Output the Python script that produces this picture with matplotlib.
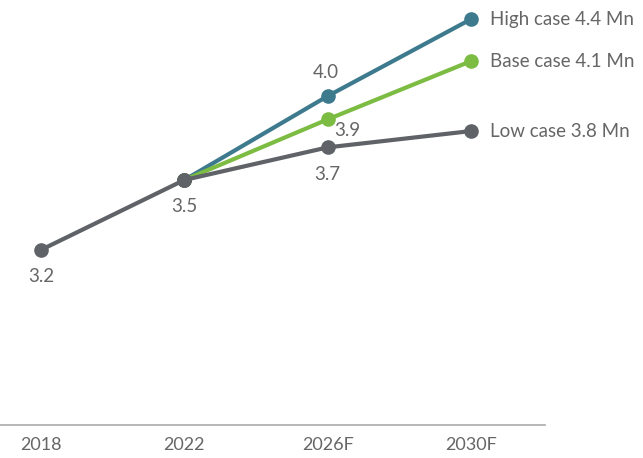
import numpy as np
import matplotlib.pyplot as plt

plt.rcParams['font.family'] = ['Lato', 'DejaVu Sans']

# data
years = ['2018', '2022', '2026F', '2030F']
history = [3.2, 3.5]
high_case = [3.5, 3.86, 4.19]
base_case = [3.5, 3.76, 4.01]
low_case = [3.5, 3.64, 3.71]
history_labels = ['3.2', '3.5']
high_labels = ['4.0']
base_labels = ['3.9']
low_labels = ['3.7']
series_names = ['High case 4.4 Mn', 'Base case 4.1 Mn', 'Low case 3.8 Mn']

teal = '#3d7a8e'
green = '#7cbc42'
grey = '#5f6267'
text_c = '#666666'

fig = plt.figure(figsize=(6.43, 4.58), dpi=100)
ax = fig.add_axes([0, 1 - 425 / 458, 545 / 643, 425 / 458])

x = np.arange(len(years))
xf = x[1:]

ax.plot(xf, high_case, c=teal, lw=3, marker='o', ms=9.5, solid_capstyle='round', zorder=3)
ax.plot(xf, base_case, c=green, lw=3, marker='o', ms=9.5, solid_capstyle='round', zorder=3)
ax.plot(xf, low_case, c=grey, lw=3, marker='o', ms=9.5, solid_capstyle='round', zorder=4)
ax.plot(x[:2], history, c=grey, lw=3, marker='o', ms=9.5, solid_capstyle='round', zorder=4)

fs = 13.5
for xi, v, t in zip(x[:2], history, history_labels):
    ax.annotate(t, (xi, v), xytext=(0, -27), textcoords='offset pixels',
                ha='center', va='center', fontsize=fs, color=text_c)
ax.annotate(high_labels[0], (xf[1], high_case[1]), xytext=(-2, 24), textcoords='offset pixels',
            ha='center', va='center', fontsize=fs, color=text_c)
ax.annotate(base_labels[0], (xf[1], base_case[1]), xytext=(20, -11), textcoords='offset pixels',
            ha='center', va='center', fontsize=fs, color=text_c)
ax.annotate(low_labels[0], (xf[1], low_case[1]), xytext=(0, -27), textcoords='offset pixels',
            ha='center', va='center', fontsize=fs, color=text_c)

for vals, name in zip([high_case, base_case, low_case], series_names):
    ax.annotate(name, (xf[-1], vals[-1]), xytext=(19, 0), textcoords='offset pixels',
                ha='left', va='center', fontsize=fs, color=text_c, annotation_clip=False)

ax.set_xlim(-41 / 143.3, (545 - 41) / 143.3)
ax.set_ylim(3.5 - 245 / 233, 3.5 + 180 / 233)
ax.set_xticks(x)
ax.set_xticklabels(years, fontsize=13, color=text_c)
ax.tick_params(axis='x', length=0, pad=9)
ax.set_yticks([])
for s in ['top', 'right', 'left']:
    ax.spines[s].set_visible(False)
ax.spines['bottom'].set_color('#aaaaaa')
ax.spines['bottom'].set_linewidth(1.2)

fig.savefig('out.png', dpi=100)
